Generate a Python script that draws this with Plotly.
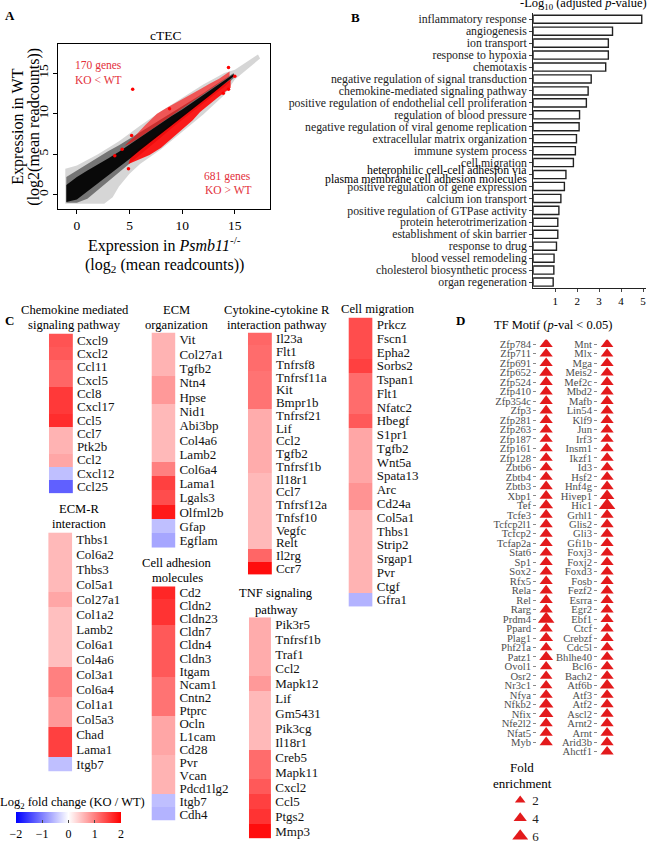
import plotly.graph_objects as go

W, H = 653, 854
SERIF = "Liberation Serif"

# ---------------- Panel A: scatter cloud envelopes ----------------
cloud_x = [-1.1, 2.6, 3.4, 4.0, 5.0, 6.0, 8.0, 10.0, 12.0, 14.0, 15.0, 17.4, 17.2, 15.0, 14.0, 12.0, 10.0, 8.0, 6.0, 4.0, 2.0, 0.0, -1.1]
cloud_y = [-1.1, -1.1, -0.3, 1.0, 2.6, 3.8, 5.6, 7.8, 9.9, 12.3, 14.2, 16.8, 17.3, 15.4, 15.0, 13.6, 12.0, 10.3, 8.5, 6.6, 5.0, 3.6, 3.2]

band_x = [-1.0, 0.0, 1.0, 2.0, 3.0, 4.0, 5.0, 6.0, 7.0, 8.0, 9.0, 10.0, 11.0, 12.0, 13.0, 14.0, 14.9,
          14.9, 14.0, 13.0, 12.0, 11.0, 10.0, 9.0, 8.0, 7.0, 6.0, 5.0, 4.0, 3.0, 2.0, 1.0, 0.0, -1.0]
mid_y = [2.2, 3.0, 3.9, 4.6, 5.4, 6.1, 6.9, 7.6, 8.4, 9.2, 10.0, 10.8, 11.7, 12.5, 13.4, 14.3, 15.0,
         14.4, 13.3, 12.3, 11.3, 10.3, 9.2, 8.2, 7.1, 6.0, 5.0, 3.9, 2.8, 1.6, 0.5, -0.5, -1.0, -1.0]
core_y = [1.2, 2.2, 3.0, 3.7, 4.5, 5.3, 6.2, 7.0, 7.9, 8.8, 9.7, 10.5, 11.4, 12.3, 13.2, 14.1, 14.9,
          14.6, 13.6, 12.6, 11.6, 10.6, 9.5, 8.5, 7.5, 6.5, 5.5, 4.4, 3.4, 2.4, 1.3, 0.3, -0.6, -0.9]

red_lo_x = [4.9, 5.8, 6.9, 8.0, 9.0, 10.1, 11.0, 11.7, 12.5, 13.3, 14.0, 14.6, 14.6, 13.0, 11.5, 10.0, 8.5, 7.0, 6.0, 5.2]
red_lo_y = [3.8, 4.3, 4.9, 5.8, 6.9, 8.2, 9.2, 10.2, 11.1, 11.9, 12.6, 13.2, 14.2, 12.8, 11.3, 9.8, 8.3, 6.8, 5.8, 5.0]
red_hi_x = [4.5, 5.5, 6.5, 7.6, 8.5, 9.5, 10.5, 11.7, 12.6, 13.5, 14.5, 14.5, 13.0, 12.0, 11.0, 10.0, 9.0, 8.0, 7.0, 6.0, 5.0]
red_hi_y = [6.0, 7.2, 8.6, 10.0, 10.7, 11.4, 12.1, 13.0, 13.7, 14.3, 15.2, 14.6, 13.3, 12.4, 11.5, 10.6, 9.8, 8.9, 8.0, 7.1, 6.3]
out_x = [5.3, 3.6, 4.9, 14.4, 15.0, 14.4, 5.2, 8.8, 4.3, 13.9]
out_y = [13.0, 4.8, 3.2, 15.7, 14.6, 13.0, 7.3, 10.6, 5.6, 12.5]
a_ticks = [0, 5, 10, 15]

# ---------------- Panel B ----------------
go_terms = ["inflammatory response", "angiogenesis", "ion transport", "response to hypoxia", "chemotaxis",
            "negative regulation of signal transduction", "chemokine-mediated signaling pathway",
            "positive regulation of endothelial cell proliferation", "regulation of blood pressure",
            "negative regulation of viral genome replication", "extracellular matrix organization",
            "immune system process", "cell migration",
            "heterophilic cell-cell adhesion via|plasma membrane cell adhesion molecules",
            "positive regulation of gene expression", "calcium ion transport",
            "positive regulation of GTPase activity", "protein heterotrimerization",
            "establishment of skin barrier", "response to drug", "blood vessel remodeling",
            "cholesterol biosynthetic process", "organ regeneration"]
go_logp = [4.94, 3.61, 3.42, 3.42, 3.30, 2.64, 2.50, 2.42, 2.11, 2.09, 1.97, 1.92, 1.83,
           1.49, 1.42, 1.26, 1.17, 1.12, 1.12, 1.06, 0.95, 0.94, 0.91]
b_ticks = [1, 2, 3, 4, 5]

# ---------------- Panel C: log2 fold change ----------------
chemo_genes = ["Cxcl9", "Cxcl2", "Ccl11", "Cxcl5", "Ccl8", "Cxcl17", "Ccl5", "Ccl7", "Ptk2b", "Ccl2", "Cxcl12", "Ccl25"]
chemo_fc = [1.35, 1.3, 1.2, 1.2, 1.55, 1.55, 1.65, 0.6, 0.6, 0.7, -0.5, -1.25]

ecm_genes = ["Vit", "Col27a1", "Tgfb2", "Ntn4", "Hpse", "Nid1", "Abi3bp", "Col4a6", "Lamb2", "Col6a4",
             "Lama1", "Lgals3", "Olfml2b", "Gfap", "Egflam"]
ecm_fc = [0.6, 0.6, 0.6, 0.8, 0.8, 0.55, 0.55, 0.55, 0.55, 1.0, 1.5, 1.4, 1.8, -0.5, -0.7]

cyto_genes = ["Il23a", "Flt1", "Tnfrsf8", "Tnfrsf11a", "Kit", "Bmpr1b", "Tnfrsf21", "Lif", "Ccl2", "Tgfb2",
              "Tnfrsf1b", "Il18r1", "Ccl7", "Tnfrsf12a", "Tnfsf10", "Vegfc", "Relt", "Il2rg", "Ccr7"]
cyto_fc = [1.2, 1.15, 1.15, 1.1, 1.1, 1.1, 0.65, 0.65, 0.65, 0.65, 0.65, 0.55, 0.55, 0.55, 0.55, 0.55, 0.55, 1.2, 1.9]

mig_genes = ["Prkcz", "Fscn1", "Epha2", "Sorbs2", "Tspan1", "Flt1", "Nfatc2", "Hbegf", "S1pr1", "Tgfb2",
             "Wnt5a", "Spata13", "Arc", "Cd24a", "Col5a1", "Thbs1", "Strip2", "Srgap1", "Pvr", "Ctgf", "Gfra1"]
mig_fc = [1.4, 1.4, 1.4, 1.5, 1.15, 1.15, 1.15, 1.3, 0.7, 0.7, 0.7, 0.7, 0.85, 0.85, 0.6, 0.6, 0.6, 0.6, 0.6, 0.6, -0.6]

ecmr_genes = ["Thbs1", "Col6a2", "Thbs3", "Col5a1", "Col27a1", "Col1a2", "Lamb2", "Col6a1", "Col4a6",
              "Col3a1", "Col6a4", "Col1a1", "Col5a3", "Chad", "Lama1", "Itgb7"]
ecmr_fc = [0.55, 0.55, 0.55, 0.55, 0.7, 0.5, 0.5, 0.5, 0.5, 1.0, 1.0, 0.8, 0.8, 1.5, 1.5, -0.5]

adh_genes = ["Cd2", "Cldn2", "Cldn23", "Cldn7", "Cldn4", "Cldn3", "Itgam", "Ncam1", "Cntn2", "Ptprc",
             "Ocln", "L1cam", "Cd28", "Pvr", "Vcan", "Pdcd1lg2", "Itgb7", "Cdh4"]
adh_fc = [1.7, 1.6, 1.6, 1.3, 1.3, 1.3, 1.3, 1.1, 1.1, 1.1, 0.7, 0.7, 0.7, 0.6, 0.6, 0.6, -0.5, -0.6]

tnf_genes = ["Pik3r5", "Tnfrsf1b", "Traf1", "Ccl2", "Mapk12", "Lif", "Gm5431", "Pik3cg", "Il18r1",
             "Creb5", "Mapk11", "Cxcl2", "Ccl5", "Ptgs2", "Mmp3"]
tnf_fc = [0.65, 0.65, 0.65, 0.65, 0.8, 0.55, 0.55, 0.55, 0.55, 1.15, 1.15, 1.3, 1.5, 1.6, 1.9]

cbar_ticks = [-2, -1, 0, 1, 2]
cbar_text = ["\u22122", "\u22121", "0", "1", "2"]

# ---------------- Panel D: TF motifs ----------------
tf_left = ["Zfp784", "Zfp711", "Zfp691", "Zfp652", "Zfp524", "Zfp410", "Zfp354c", "Zfp3", "Zfp281", "Zfp263",
           "Zfp187", "Zfp161", "Zfp128", "Zbtb6", "Zbtb4", "Zbtb3", "Xbp1", "Tef", "Tcfe3", "Tcfcp2l1",
           "Tcfcp2", "Tcfap2a", "Stat6", "Sp1", "Sox2", "Rfx5", "Rela", "Rel", "Rarg", "Prdm4", "Ppard",
           "Plag1", "Phf21a", "Patz1", "Ovol1", "Osr2", "Nr3c1", "Nfya", "Nfkb2", "Nfix", "Nfe2l2", "Nfat5", "Myb"]
tf_left_fold = [4, 4, 4, 4.5, 4, 4, 4, 4, 4, 4, 4, 4, 4, 4, 4, 4, 4, 4.5, 4, 4, 4, 4, 4, 4, 4, 4, 4, 4, 4,
                6.5, 4, 4.5, 3.5, 4.5, 3.5, 3.5, 3.5, 4, 5, 5, 4, 4, 4]
tf_right = ["Mnt", "Mlx", "Mga", "Meis2", "Mef2c", "Mbd2", "Mafb", "Lin54", "Klf9", "Jun", "Irf3", "Insm1",
            "Ikzf1", "Id3", "Hsf2", "Hnf4g", "Hivep1", "Hic1", "Grhl1", "Glis2", "Gli3", "Gfi1b", "Foxj3",
            "Foxj2", "Foxd3", "Fosb", "Fezf2", "Esrra", "Egr2", "Ebf1", "Ctcf", "Crebzf", "Cdc5l", "Bhlhe40",
            "Bcl6", "Bach2", "Atf6b", "Atf3", "Atf2", "Ascl2", "Arnt2", "Arnt", "Arid3b", "Ahctf1"]
tf_right_fold = [3.5, 3.5, 4, 4, 4, 4, 4, 4, 4, 4, 4, 4, 4, 4, 4, 4, 5, 6.5, 4, 4, 4, 4, 4, 4, 4, 4, 4, 4,
                 4, 4, 4, 4, 4, 4, 4, 4, 5, 4, 4, 4, 4, 4, 4, 4]
legend_fold = [2, 4, 6]

# ---------------- helpers ----------------
def dx(l, r):
    return [l / W, r / W]

def dy(t, b):
    return [1 - b / H, 1 - t / H]

def tri_size(f):
    return 6.9 + 1.15 * f

RED_TXT = "#e3303a"
TRI = "#e31a1c"
anns = []

def ann(text, x, y, size, xanchor="center", yanchor="middle", color="black", angle=0):
    anns.append(dict(text=text, x=x / W, y=1 - y / H, xref="paper", yref="paper", showarrow=False,
                     xanchor=xanchor, yanchor=yanchor, textangle=angle,
                     font=dict(family=SERIF, size=size, color=color)))

fig = go.Figure()
layout = {}

# ---------------- Panel A ----------------
for xs, ys, col in [(cloud_x, cloud_y, "rgba(0,0,0,0.16)"),
                    (band_x, mid_y, "rgba(0,0,0,0.45)"),
                    (red_lo_x, red_lo_y, "rgba(255,0,0,0.88)"),
                    (red_hi_x, red_hi_y, "rgba(255,0,0,0.6)"),
                    (band_x, core_y, "rgba(0,0,0,0.92)")]:
    fig.add_trace(go.Scatter(x=xs, y=ys, mode="lines", fill="toself", fillcolor=col,
                             line=dict(width=0), hoverinfo="skip", xaxis="x", yaxis="y"))
fig.add_trace(go.Scatter(x=out_x, y=out_y, mode="markers", marker=dict(color="red", size=3.5, opacity=1),
                         xaxis="x", yaxis="y", hoverinfo="skip"))
axA = dict(showline=True, mirror=True, linecolor="black", linewidth=1, ticks="outside", ticklen=4,
           tickcolor="black", showgrid=False, zeroline=False, tickfont=dict(family=SERIF, size=13.5))
layout["xaxis"] = dict(axA, domain=dx(58, 270), range=[-1.8, 18.3], tickvals=a_ticks, anchor="y")
layout["yaxis"] = dict(axA, domain=dy(43, 208), range=[-1.7, 18.6], tickvals=a_ticks, tickangle=-90, anchor="x")
ann("<b>A</b>", 10, 15, 13)
ann("cTEC", 166, 35, 13.5)
ann("170 genes", 73, 65, 11.5, xanchor="left", color=RED_TXT)
ann("KO &lt; WT", 73, 79, 11.5, xanchor="left", color=RED_TXT)
ann("681 genes", 202, 176, 11.5, xanchor="left", color=RED_TXT)
ann("KO &gt; WT", 203, 189, 11.5, xanchor="left", color=RED_TXT)
ann("Expression in WT", 18, 126, 16, angle=-90)
ann("(log2(mean readcounts))", 34, 126, 16, angle=-90)
ann("Expression in <i>Psmb11</i><sup>-/-</sup>", 165, 244, 16)
ann("(log<sub>2</sub> (mean readcounts))", 165, 265, 16)

# ---------------- Panel B ----------------
ypos = list(range(len(go_terms)))
fig.add_trace(go.Bar(x=go_logp, y=ypos, orientation="h", width=0.68,
                     marker=dict(color="white", line=dict(color="#222", width=1.4)),
                     xaxis="x2", yaxis="y2", hoverinfo="skip"))
ticktext_b = []
for i, t in enumerate(go_terms):
    if "|" in t:
        ticktext_b.append("")
        l1, l2 = t.split("|")
        yc = 18.3 + i * 11.97
        ann(l1, 530, yc - 4.2, 11.8, xanchor="right")
        ann(l2, 530, yc + 4.2, 11.8, xanchor="right")
    else:
        ticktext_b.append(t)
layout["xaxis2"] = dict(domain=dx(534, 646.7), range=[0, 5.12], tickvals=b_ticks, ticks="outside", ticklen=3,
                        showline=True, linecolor="#222", linewidth=1, showgrid=False,
                        zeroline=False, tickfont=dict(family=SERIF, size=11), anchor="y2")
layout["yaxis2"] = dict(domain=dy(12.3, 287.7), range=[22.5, -0.5], tickvals=ypos, ticktext=ticktext_b,
                        ticks="outside", ticklen=3, showline=True, linecolor="#222", linewidth=1,
                        showgrid=False, zeroline=False, tickfont=dict(family=SERIF, size=11.8, color="#222"),
                        anchor="x2")
ann("<b>B</b>", 356, 17, 13)
ann("-Log<sub>10</sub> (adjusted <i>p</i>-value)", 584, 3, 12.5)

# ---------------- Panel C ----------------
heat_specs = [
    (chemo_genes, chemo_fc, 49, 73, 333.3, 493.3, ["Chemokine mediated", "signaling pathway"], 75, [310, 325]),
    (ecm_genes, ecm_fc, 151.7, 175.7, 332.3, 548.3, ["ECM", "organization"], 177, [310, 325]),
    (cyto_genes, cyto_fc, 248.3, 272.3, 332.3, 575, ["Cytokine-cytokine R", "interaction pathway"], 277, [310, 325]),
    (mig_genes, mig_fc, 349, 373.3, 317.3, 607.1, ["Cell migration"], 378.3, [308.3]),
    (ecmr_genes, ecmr_fc, 48.3, 72.3, 532.7, 772.3, ["ECM-R", "interaction"], 79.6, [509.3, 524.3]),
    (adh_genes, adh_fc, 151.7, 175.7, 586.7, 821.7, ["Cell adhesion", "molecules"], 177.7, [563.3, 578.3]),
    (tnf_genes, tnf_fc, 249.3, 271.7, 617.7, 839.7, ["TNF signaling", "pathway"], 276.7, [593.3, 610]),
]
for k, (genes, vals, xl, xr, yt, yb, title, tx, tys) in enumerate(heat_specs):
    n = k + 3
    rows = list(range(len(genes)))
    fig.add_trace(go.Heatmap(z=[[v] for v in vals], x=[0], y=rows, coloraxis="coloraxis",
                             xaxis=f"x{n}", yaxis=f"y{n}", hoverinfo="skip"))
    layout[f"xaxis{n}"] = dict(domain=dx(xl, xr), range=[-0.5, 0.5], visible=False, anchor=f"y{n}")
    layout[f"yaxis{n}"] = dict(domain=dy(yt, yb), range=[len(genes) - 0.5, -0.5], side="right",
                               tickvals=rows, ticktext=genes, ticks="", showgrid=False, zeroline=False,
                               showline=False, ticklabelstandoff=3,
                               tickfont=dict(family=SERIF, size=13, color="#111"), anchor=f"x{n}")
    for line, ty in zip(title, tys):
        ann(line, tx, ty, 12.6)
ann("<b>C</b>", 10, 320, 13)
ann("Log<sub>2</sub> fold change (KO / WT)", 73, 804, 12.5)
layout["coloraxis"] = dict(
    colorscale=[[0, "#0000ff"], [0.5, "#ffffff"], [1, "#ff0000"]], cmin=-2, cmax=2,
    colorbar=dict(orientation="h", x=68.5 / W, xanchor="center", y=1 - 813.3 / H, yanchor="top",
                  len=105, lenmode="pixels", thickness=11, thicknessmode="pixels", xpad=0, ypad=0,
                  outlinewidth=0, tickvals=cbar_ticks, ticktext=cbar_text, ticks="inside", ticklen=3,
                  tickcolor="#444", tickfont=dict(family=SERIF, size=12)))

# ---------------- Panel D ----------------
for n, names, folds, xl, xr in [(10, tf_left, tf_left_fold, 538, 556), (11, tf_right, tf_right_fold, 599, 617)]:
    rows = list(range(1, len(names) + 1))
    fig.add_trace(go.Scatter(x=[0] * len(names), y=rows, mode="markers",
                             marker=dict(symbol="triangle-up", color=TRI, size=[tri_size(f) for f in folds],
                                         opacity=1, line=dict(width=0)),
                             xaxis=f"x{n}", yaxis=f"y{n}", hoverinfo="skip"))
    layout[f"xaxis{n}"] = dict(domain=dx(xl, xr), range=[-1, 1], visible=False, anchor=f"y{n}")
    layout[f"yaxis{n}"] = dict(domain=dy(339.25, 757.25), range=[44.5, 0.5], tickvals=rows, ticktext=names,
                               ticks="outside", ticklen=3, tickcolor="#888", showgrid=False, zeroline=False,
                               showline=False, tickfont=dict(family=SERIF, size=10.6, color="#4d4d4d"),
                               anchor=f"x{n}")
fig.add_trace(go.Scatter(x=[0, 0, 0], y=legend_fold, mode="markers",
                         marker=dict(symbol="triangle-up", color=TRI, size=[tri_size(f) for f in legend_fold],
                                     opacity=1, line=dict(width=0)),
                         xaxis="x12", yaxis="y12", hoverinfo="skip"))
layout["xaxis12"] = dict(domain=dx(512, 530), range=[-1, 1], visible=False, anchor="y12")
layout["yaxis12"] = dict(domain=dy(792, 846), range=[7, 1], side="right", tickvals=legend_fold,
                         ticktext=[str(f) for f in legend_fold], ticks="", showgrid=False, zeroline=False,
                         showline=False, ticklabelstandoff=2, tickfont=dict(family=SERIF, size=13, color="#222"),
                         anchor="x12")
ann("<b>D</b>", 461, 320, 13)
ann("TF Motif (<i>p</i>-val &lt; 0.05)", 554, 325, 12.5)
ann("Fold", 523, 768.3, 13)
ann("enrichment", 523, 784.3, 13)

fig.update_layout(width=W, height=H, margin=dict(l=0, r=0, t=0, b=0), autosize=False,
                  plot_bgcolor="white", paper_bgcolor="white", showlegend=False,
                  font=dict(family=SERIF, color="black"), annotations=anns, **layout)
fig.write_html("out.html")
